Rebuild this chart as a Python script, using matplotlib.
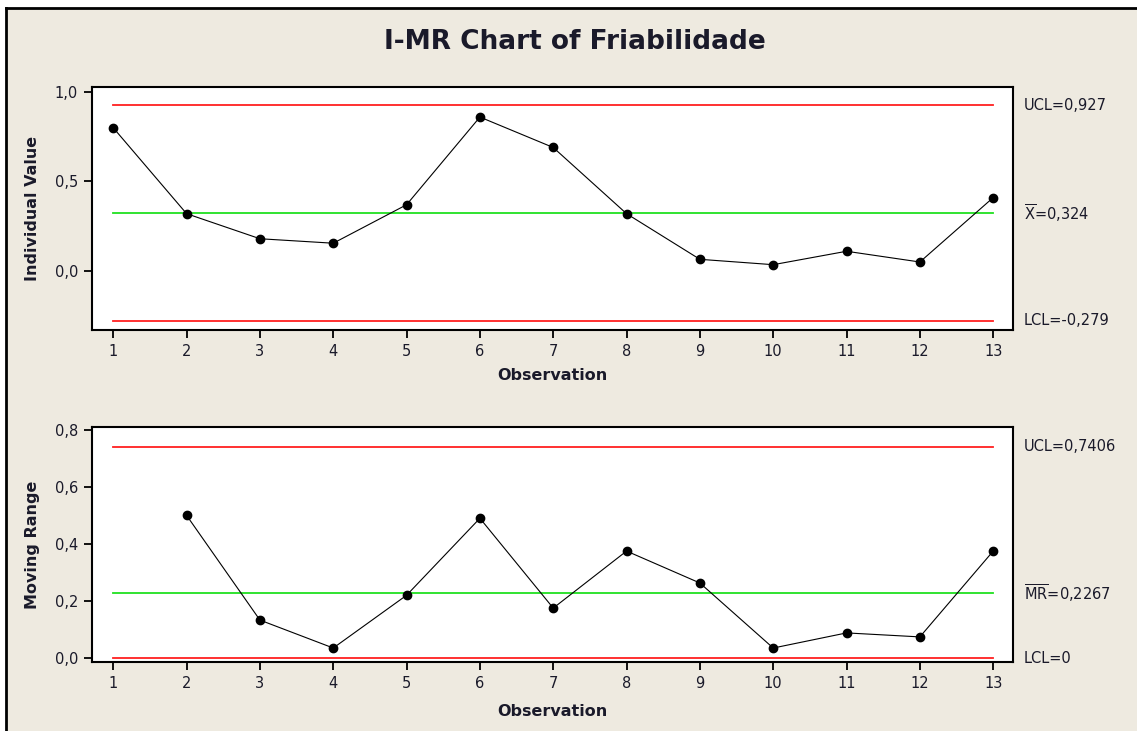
import matplotlib.pyplot as plt
from matplotlib.lines import Line2D
from matplotlib.patches import Rectangle
import matplotlib.transforms as mtransforms

plt.rcParams['mathtext.fontset'] = 'dejavusans'

# data
obs = list(range(1, 14))
individual = [0.80, 0.32, 0.18, 0.155, 0.37, 0.86, 0.69, 0.32, 0.065, 0.035, 0.11, 0.05, 0.41]
mr_obs = list(range(2, 14))
moving_range = [0.50, 0.133, 0.035, 0.22, 0.49, 0.175, 0.375, 0.263, 0.035, 0.088, 0.074, 0.375]

i_limits = [0.927, 0.324, -0.279]
i_labels = ['UCL=0,927', r'$\overline{\mathrm{X}}$=0,324', 'LCL=-0,279']
mr_limits = [0.7406, 0.2267, 0.0]
mr_labels = ['UCL=0,7406', r'$\overline{\mathrm{MR}}$=0,2267', 'LCL=0']

i_yticks = [0.0, 0.5, 1.0]
i_yticklabels = ['0,0', '0,5', '1,0']
mr_yticks = [0.0, 0.2, 0.4, 0.6, 0.8]
mr_yticklabels = ['0,0', '0,2', '0,4', '0,6', '0,8']

BG = '#eeeae0'
RED = '#ff2020'
GREEN = '#20e020'
TXT = '#1a1a2a'

W, H = 1137, 731
fig = plt.figure(figsize=(W / 100, H / 100), dpi=100, facecolor='white')

# beige panel with black frame on left/top
fig.add_artist(Rectangle((6 / W, 0), 1, 1 - 8 / H, transform=fig.transFigure,
                         facecolor=BG, edgecolor='none', zorder=-10))
fig.add_artist(Line2D([6 / W, 6 / W], [0, 1 - 8 / H], transform=fig.transFigure,
                      color='black', lw=2))
fig.add_artist(Line2D([6 / W, 1], [1 - 8 / H, 1 - 8 / H], transform=fig.transFigure,
                      color='black', lw=2))

fig.text(0.506, 0.943, 'I-MR Chart of Friabilidade', ha='center', va='center',
         fontsize=19, fontweight='bold', color=TXT)


def make_panel(rect, xs, ys, limits, labels, yticks, yticklabels, ylim, ylabel, xlab_y):
    ax = fig.add_axes(rect)
    ax.set_facecolor('white')
    colors = [RED, GREEN, RED]
    trans = mtransforms.blended_transform_factory(ax.transAxes, ax.transData)
    for val, lab, c in zip(limits, labels, colors):
        ax.plot([1, 13], [val, val], color=c, lw=1.3, zorder=1)
        ax.text(1.012, val, lab, transform=trans, ha='left', va='center',
                fontsize=10.5, color=TXT)
    ax.plot(xs, ys, color='black', lw=0.8, marker='o', markersize=6, zorder=3)
    ax.set_xlim(0.71, 13.27)
    ax.set_ylim(*ylim)
    ax.set_xticks(obs)
    ax.set_xticklabels([str(o) for o in obs], fontsize=10.5, color=TXT)
    ax.set_yticks(yticks)
    ax.set_yticklabels(yticklabels, fontsize=10.5, color=TXT)
    ax.tick_params(direction='out', length=6, width=1.3, colors='black', pad=4)
    for lab in ax.get_xticklabels() + ax.get_yticklabels():
        lab.set_color(TXT)
    for s in ax.spines.values():
        s.set_linewidth(1.5)
    ax.set_xlabel('Observation', fontsize=11.5, fontweight='bold', color=TXT)
    ax.xaxis.set_label_coords(0.5, xlab_y)
    ax.set_ylabel(ylabel, fontsize=11.5, fontweight='bold', color=TXT)
    ax.yaxis.set_label_coords(-0.056, 0.5)
    return ax


make_panel([92 / W, 1 - 330 / H, 921 / W, 243 / H], obs, individual, i_limits, i_labels,
           i_yticks, i_yticklabels, (-0.33, 1.028), 'Individual Value', -0.155)
make_panel([92 / W, 1 - 662 / H, 921 / W, 235 / H], mr_obs, moving_range, mr_limits, mr_labels,
           mr_yticks, mr_yticklabels, (-0.014, 0.81), 'Moving Range', -0.18)

fig.savefig('out.png', dpi=100, facecolor='white')
